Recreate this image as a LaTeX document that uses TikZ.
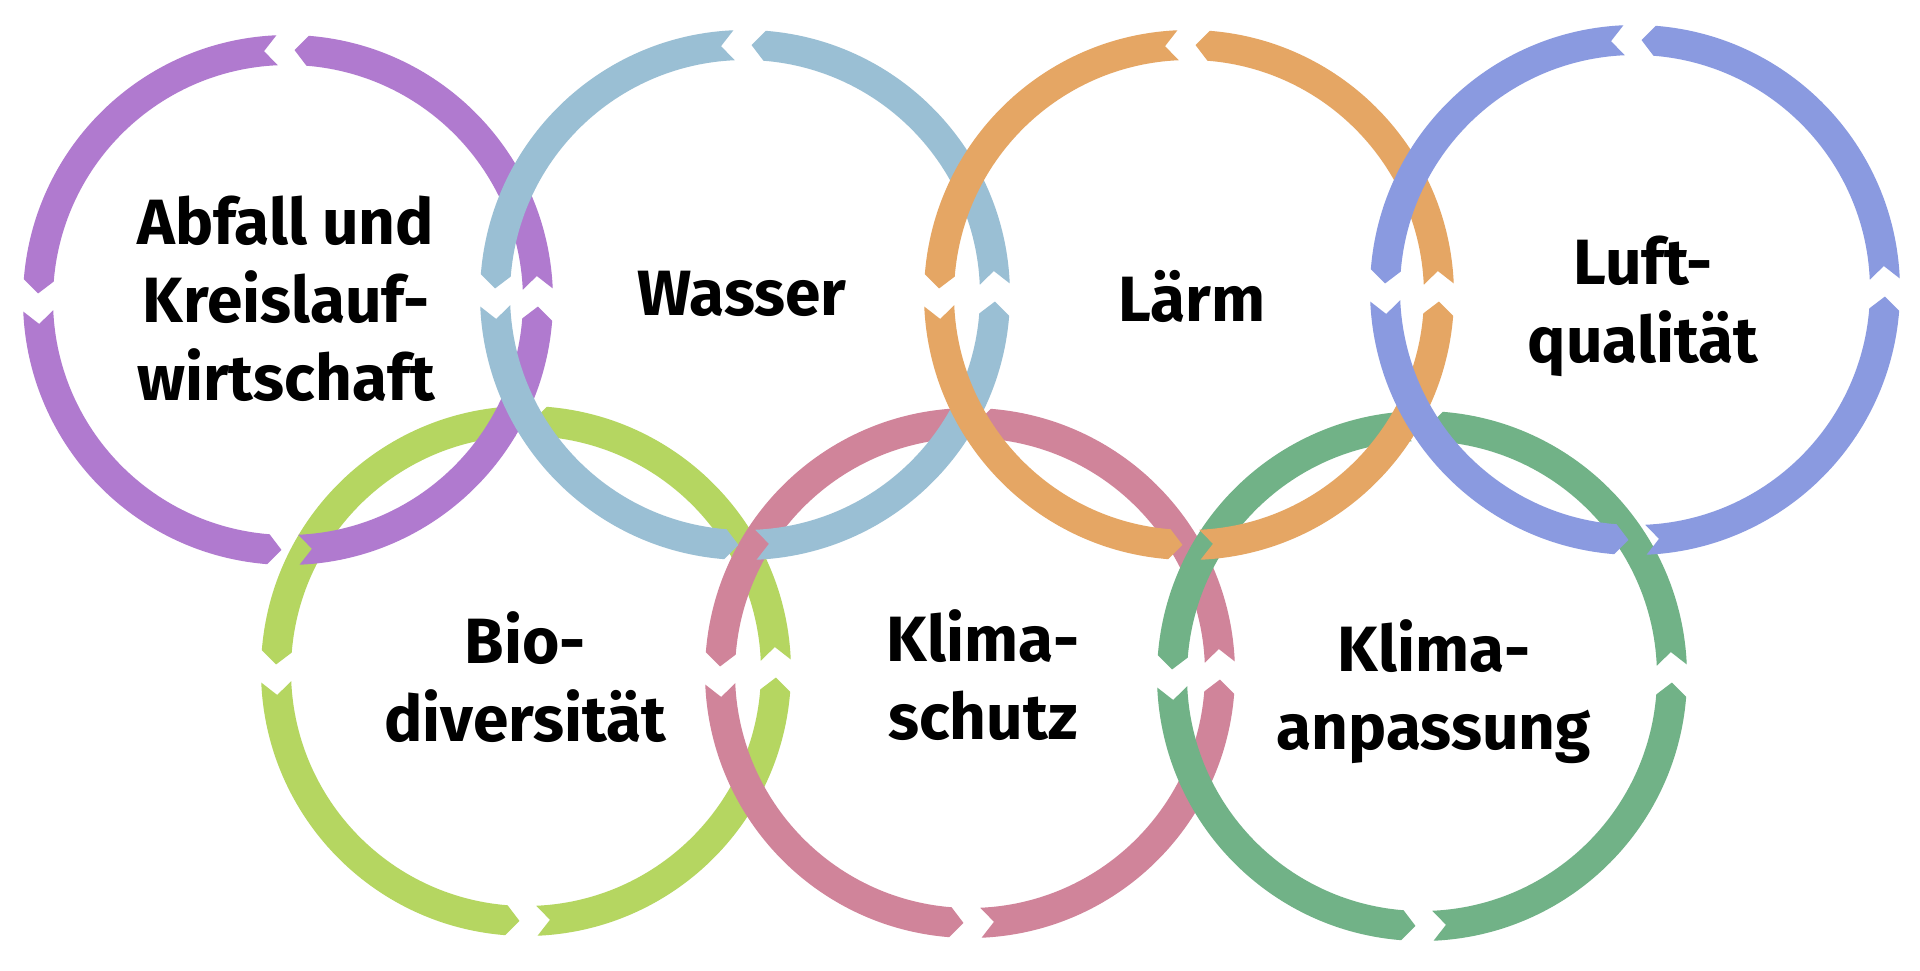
\documentclass[tikz,border=0pt]{standalone}
\usepackage{fontspec}
\setmainfont{Fira Sans}
\definecolor{cpurple}{HTML}{B07ACF}
\definecolor{cblue}{HTML}{9ABFD4}
\definecolor{corange}{HTML}{E5A664}
\definecolor{cperi}{HTML}{8A9AE0}
\definecolor{cyellowgreen}{HTML}{B5D661}
\definecolor{cpink}{HTML}{D0849A}
\definecolor{cgreen}{HTML}{71B287}
\newcommand{\drawring}[3]{%
  \begin{scope}[shift={(#1,970-#2)}]
    \foreach \k in {0,90,180,270}{%
      \fill[#3] (\k+2.5:265) arc[start angle=\k+2.5, end angle=\k+85.5, radius=265]
        -- (\k+88.5:250) -- (\k+85.5:235)
        arc[start angle=\k+85.5, end angle=\k+2.5, radius=235]
        -- (\k+5.5:250) -- cycle;
    }
  \end{scope}}
\tikzset{lbl/.style={font=\bfseries\fontsize{64}{78}\selectfont, align=center, text=black, inner sep=0pt}}
\begin{document}
\begin{tikzpicture}[x=1pt,y=1pt]
\useasboundingbox (0,0) rectangle (1920,970);
\fill[white] (0,0) rectangle (1920,970);
% bottom row
\drawring{526}{671}{cyellowgreen}
\drawring{970}{673}{cpink}
\drawring{1422}{676}{cgreen}
% top row
\drawring{288}{300}{cpurple}
\drawring{745}{295}{cblue}
\drawring{1189}{295}{corange}
\drawring{1635}{290}{cperi}
% labels
\node[lbl] (abfall) at (286,970-299) {Abfall und\\Kreislauf-\\wirtschaft};
\node[lbl] (wasser) at (742,970-294) {Wasser};
\node[lbl] (laerm) at (1192,970-296) {Lärm};
\node[lbl] (luft) at (1643,970-306) {Luft-\\qualität};
\node[lbl] (bio) at (525,970-677) {Bio-\\diversität};
\node[lbl] (schutz) at (983,970-675) {Klima-\\schutz};
\node[lbl] (anpassung) at (1434,970-692) {Klima-\\anpassung};
\end{tikzpicture}
\end{document}
